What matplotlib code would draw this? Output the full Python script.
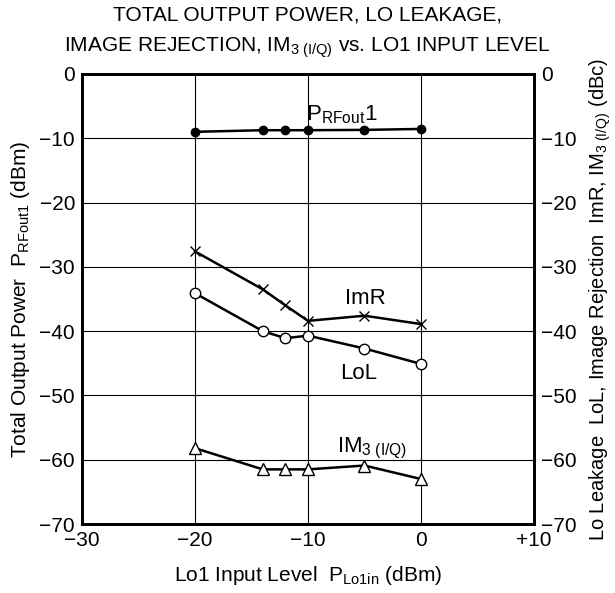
import matplotlib
matplotlib.use("Agg")
import matplotlib.pyplot as plt

plt.rcParams['font.family'] = ['Liberation Sans', 'DejaVu Sans']
plt.rcParams['mathtext.fontset'] = 'custom'
plt.rcParams['mathtext.rm'] = 'Liberation Sans'
plt.rcParams['mathtext.it'] = 'Liberation Sans'
plt.rcParams['mathtext.sf'] = 'Liberation Sans'

x_pts = [-20, -14, -12, -10, -5, 0]
prf = [-9.0, -8.75, -8.75, -8.75, -8.7, -8.55]
imr = [-27.6, -33.5, -36.0, -38.4, -37.6, -38.9]
lol = [-34.1, -40.0, -41.1, -40.7, -42.7, -45.1]
im3 = [-58.2, -61.5, -61.5, -61.5, -60.9, -63.0]

x_ticks = [-30, -20, -10, 0, 10]
x_tick_labels = ['\u221230', '\u221220', '\u221210', '0', '+10']
y_ticks = [0, -10, -20, -30, -40, -50, -60, -70]
y_tick_labels = ['0', '\u221210', '\u221220', '\u221230', '\u221240', '\u221250', '\u221260', '\u221270']

fig = plt.figure(figsize=(6.15, 5.93), dpi=100)
ax = fig.add_axes([0.1333, 0.1163, 0.735, 0.759])

ax.set_xlim(-30, 10)
ax.set_ylim(-70, 0)
ax.set_xticks(x_ticks)
ax.set_xticklabels(x_tick_labels)
ax.set_yticks(y_ticks)
ax.set_yticklabels(y_tick_labels)
ax.grid(True, color='black', linewidth=0.8)
ax.tick_params(axis='both', length=0, labelsize=15, pad=5)
for s in ax.spines.values():
    s.set_linewidth(2.0)

lw = 1.8
ax.plot(x_pts, prf, color='black', lw=lw, marker='o', ms=6, mfc='black', zorder=3)
ax.plot(x_pts, imr, color='black', lw=lw, marker='x', ms=7, mew=1.0, zorder=3)
ax.plot(x_pts, lol, color='black', lw=lw, marker='o', ms=7.5, mfc='white', mew=1.0, zorder=3)
ax.plot(x_pts, im3, color='black', lw=lw, marker='^', ms=8, mfc='white', mew=1.0, zorder=3)

ax.text(-10.2, -6.3, r'P$_{\mathrm{RFout}}$1', fontsize=16, ha='left', va='center')
ax.text(-6.7, -34.9, 'ImR', fontsize=16, ha='left', va='center')
ax.text(-7.2, -46.6, 'LoL', fontsize=16, ha='left', va='center')
ax.text(-7.4, -58.3, r'IM$_{\mathrm{3\ (I/Q)}}$', fontsize=16, ha='left', va='center')

ax2 = ax.twinx()
ax2.set_ylim(-70, 0)
ax2.set_yticks(y_ticks)
ax2.set_yticklabels(y_tick_labels)
ax2.tick_params(axis='y', length=0, labelsize=15, pad=5)
for s in ax2.spines.values():
    s.set_linewidth(2.0)

ax.set_xlabel(r'Lo1 Input Level  P$_{\mathrm{Lo1in}}$ (dBm)', fontsize=15, labelpad=10)
ax.set_ylabel(r'Total Output Power  P$_{\mathrm{RFout1}}$ (dBm)', fontsize=15, labelpad=5)
ax2.set_ylabel(r'Lo Leakage  LoL, Image Rejection  ImR, IM$_{\mathrm{3\ (I/Q)}}$ (dBc)', fontsize=14.5, labelpad=8)

fig.text(0.5, 0.974, 'TOTAL OUTPUT POWER, LO LEAKAGE,', ha='center', va='center', fontsize=15)
fig.text(0.5, 0.92, r'IMAGE REJECTION, IM$_{\mathrm{3\ (I/Q)}}$ vs. LO1 INPUT LEVEL', ha='center', va='center', fontsize=15)

fig.savefig('out.png', dpi=100)
